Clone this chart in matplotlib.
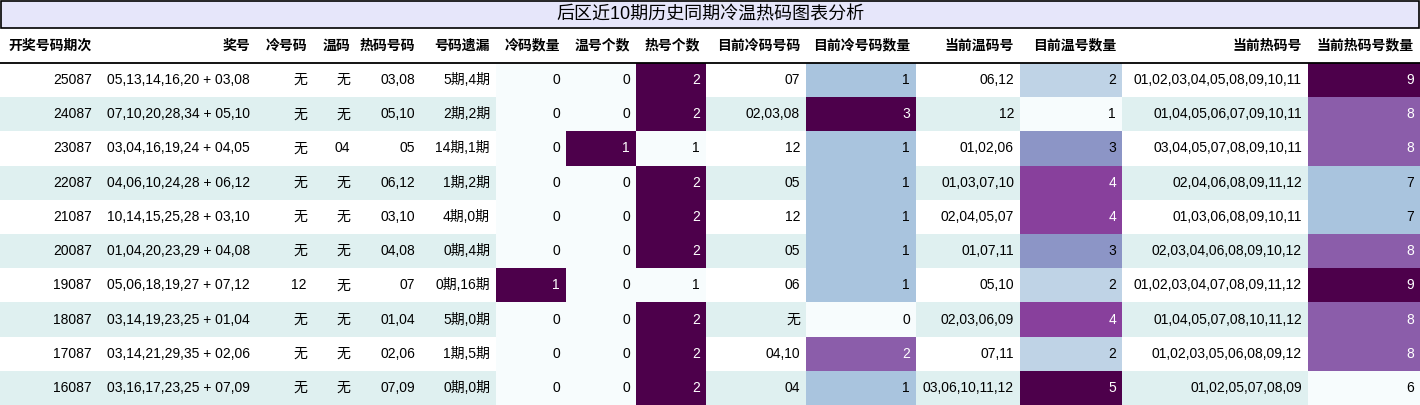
import matplotlib
matplotlib.use("Agg")
import matplotlib.pyplot as plt
from matplotlib.patches import Rectangle
from matplotlib import cm, colors as mcolors

plt.rcParams['font.family'] = ['Liberation Sans', 'Noto Sans CJK SC', 'DejaVu Sans']

title = "后区近10期历史同期冷温热码图表分析"
headers = ["开奖号码期次", "奖号", "冷号码", "温码", "热码号码", "号码遗漏", "冷码数量", "温号个数", "热号个数",
           "目前冷码号码", "目前冷号码数量", "当前温码号", "目前温号数量", "当前热码号", "当前热码号数量"]
periods = ["25087", "24087", "23087", "22087", "21087", "20087", "19087", "18087", "17087", "16087"]
draws = ["05,13,14,16,20 + 03,08", "07,10,20,28,34 + 05,10", "03,04,16,19,24 + 04,05", "04,06,10,24,28 + 06,12",
         "10,14,15,25,28 + 03,10", "01,04,20,23,29 + 04,08", "05,06,18,19,27 + 07,12", "03,14,19,23,25 + 01,04",
         "03,14,21,29,35 + 02,06", "03,16,17,23,25 + 07,09"]
cold_nums = ["无", "无", "无", "无", "无", "无", "12", "无", "无", "无"]
warm_nums = ["无", "无", "04", "无", "无", "无", "无", "无", "无", "无"]
hot_nums = ["03,08", "05,10", "05", "06,12", "03,10", "04,08", "07", "01,04", "02,06", "07,09"]
omission = ["5期,4期", "2期,2期", "14期,1期", "1期,2期", "4期,0期", "0期,4期", "0期,16期", "5期,0期", "1期,5期", "0期,0期"]
cold_cnt = [0, 0, 0, 0, 0, 0, 1, 0, 0, 0]
warm_cnt = [0, 0, 1, 0, 0, 0, 0, 0, 0, 0]
hot_cnt = [2, 2, 1, 2, 2, 2, 1, 2, 2, 2]
cur_cold = ["07", "02,03,08", "12", "05", "12", "05", "06", "无", "04,10", "04"]
cur_cold_cnt = [1, 3, 1, 1, 1, 1, 1, 0, 2, 1]
cur_warm = ["06,12", "12", "01,02,06", "01,03,07,10", "02,04,05,07", "01,07,11", "05,10", "02,03,06,09", "07,11", "03,06,10,11,12"]
cur_warm_cnt = [2, 1, 3, 4, 4, 3, 2, 4, 2, 5]
cur_hot = ["01,02,03,04,05,08,09,10,11", "01,04,05,06,07,09,10,11", "03,04,05,07,08,09,10,11",
           "02,04,06,08,09,11,12", "01,03,06,08,09,10,11", "02,03,04,06,08,09,10,12",
           "01,02,03,04,07,08,09,11,12", "01,04,05,07,08,10,11,12", "01,02,03,05,06,08,09,12", "01,02,05,07,08,09"]
cur_hot_cnt = [9, 8, 8, 7, 7, 8, 9, 8, 8, 6]

columns = [periods, draws, cold_nums, warm_nums, hot_nums, omission, cold_cnt, warm_cnt, hot_cnt,
           cur_cold, cur_cold_cnt, cur_warm, cur_warm_cnt, cur_hot, cur_hot_cnt]
heat_cols = {6, 7, 8, 10, 12, 14}

edges = [0, 98, 256, 313, 356, 421, 496, 566, 636, 706, 806, 916, 1020, 1122, 1308, 1420]
W, H = 1420, 405
top_title, title_h, header_h = 0, 28, 35
row_top = title_h + header_h
row_h = (H - row_top) / len(periods)

fig = plt.figure(figsize=(W / 100, H / 100), dpi=100)
ax = fig.add_axes([0, 0, 1, 1])
ax.set_xlim(0, W)
ax.set_ylim(H, 0)
ax.axis('off')

ax.add_patch(Rectangle((1, 1), W - 2, title_h - 1, facecolor='#e6e6fa', edgecolor='black', lw=1.2))
ax.text(W / 2, title_h / 2 + 1, title, ha='center', va='center', fontsize=13)

fs = 10
for j, h in enumerate(headers):
    y = title_h + header_h / 2
    if j == 0:
        ax.text(edges[0] + 8, y, h, ha='left', va='center', fontsize=fs, fontweight='bold')
    else:
        ax.text(edges[j + 1] - 6, y, h, ha='right', va='center', fontsize=fs, fontweight='bold')
ax.plot([0, W], [row_top, row_top], color='black', lw=1.3)

cmap = cm.get_cmap('BuPu')
for i in range(len(periods)):
    y0 = row_top + i * row_h
    stripe = '#dff0f0' if i % 2 == 1 else 'white'
    ax.add_patch(Rectangle((0, y0), W, row_h, facecolor=stripe, edgecolor='none'))
    for j, col in enumerate(columns):
        val = col[i]
        tc = 'black'
        if j in heat_cols:
            lo, hi = min(col), max(col)
            t = (val - lo) / (hi - lo) if hi > lo else 0
            c = cmap(t)
            ax.add_patch(Rectangle((edges[j], y0), edges[j + 1] - edges[j], row_h, facecolor=c, edgecolor='none'))
            if t > 0.55:
                tc = 'white'
        ax.text(edges[j + 1] - 6, y0 + row_h / 2, str(val), ha='right', va='center', fontsize=fs, color=tc)

fig.savefig("out.png", dpi=100)
